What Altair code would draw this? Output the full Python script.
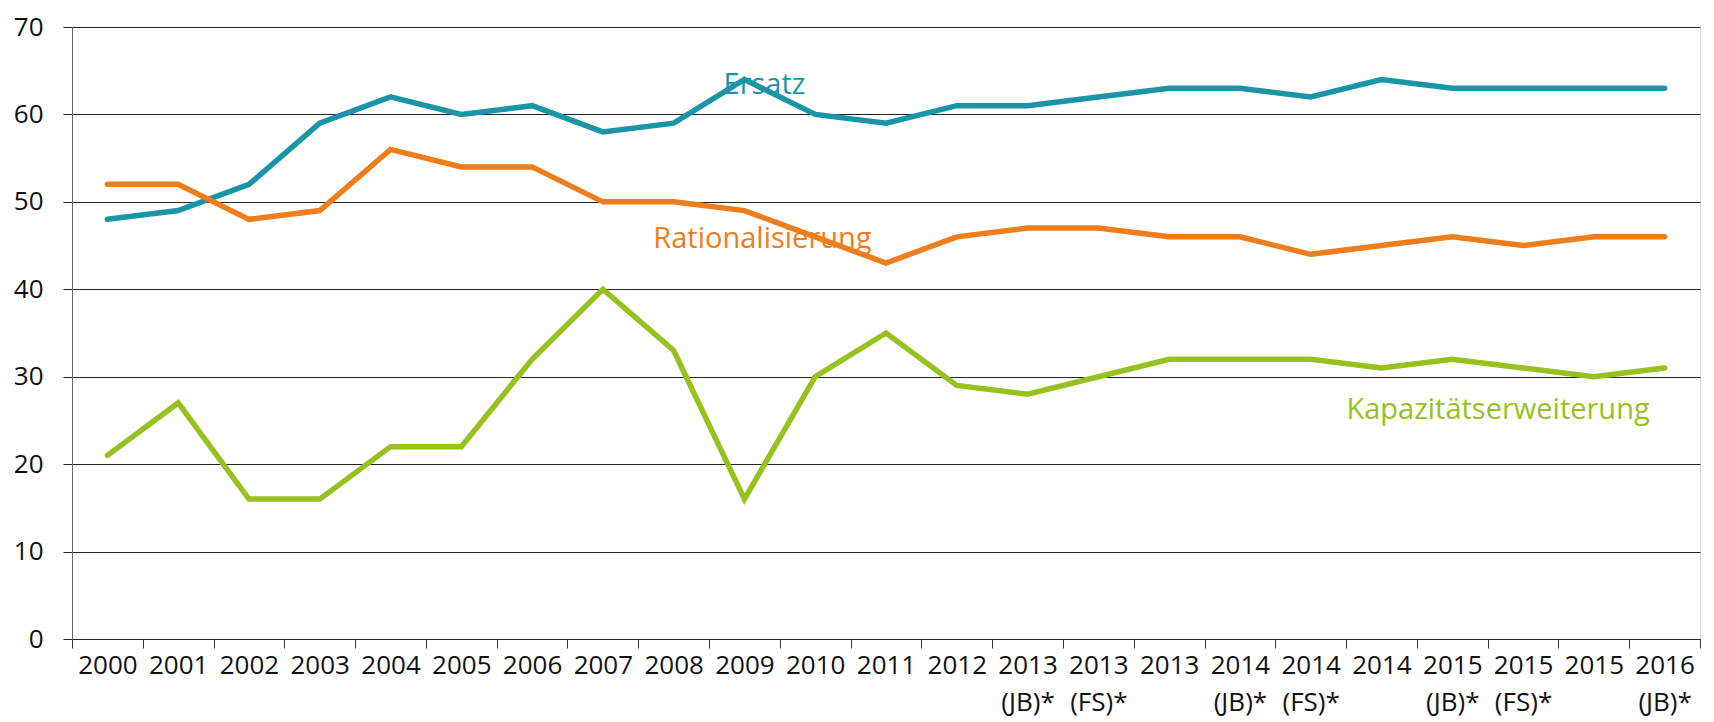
import altair as alt
import pandas as pd

categories = ["2000", "2001", "2002", "2003", "2004", "2005", "2006", "2007", "2008",
              "2009", "2010", "2011", "2012", "2013\n(JB)*", "2013\n(FS)*", "2013",
              "2014\n(JB)*", "2014\n(FS)*", "2014", "2015\n(JB)*", "2015\n(FS)*", "2015",
              "2016\n(JB)*"]
ersatz = [48, 49, 52, 59, 62, 60, 61, 58, 59, 64, 60, 59, 61, 61, 62, 63, 63, 62, 64, 63, 63, 63, 63]
rational = [52, 52, 48, 49, 56, 54, 54, 50, 50, 49, 46, 43, 46, 47, 47, 46, 46, 44, 45, 46, 45, 46, 46]
kapazitaet = [21, 27, 16, 16, 22, 22, 32, 40, 33, 16, 30, 35, 29, 28, 30, 32, 32, 32, 31, 32, 31, 30, 31]
series_names = ["Ersatz", "Rationalisierung", "Kapazitätserweiterung"]
series_colors = ["#1a95a6", "#ee7d1b", "#96c11f"]
y_ticks = [0, 10, 20, 30, 40, 50, 60, 70]

label_cat = ["2009", "2009", "2015\n(FS)*"]
label_val = [63.4, 45.7, 26.2]
label_dx = [20, 18, -25]

FONT = "Open Sans"

rows = []
for name, vals in zip(series_names, [ersatz, rational, kapazitaet]):
    for c, v in zip(categories, vals):
        rows.append({"Jahr": c, "Wert": v, "Serie": name})
df = pd.DataFrame(rows)

lab = pd.DataFrame({"Jahr": label_cat, "Wert": label_val, "Serie": series_names, "dx": label_dx})

xenc = alt.X("Jahr:N", sort=categories, bandPosition=0.5,
             scale=alt.Scale(type="band", paddingInner=0, paddingOuter=0),
             axis=alt.Axis(title=None, labelAngle=0, tickBand="extent",
                           labelExpr="split(datum.label, '\\n')",
                           labelFont=FONT, labelFontSize=26, labelColor="#111111",
                           labelLineHeight=37, labelPadding=4, tickSize=9,
                           tickColor="#333333", domainColor="#222222",
                           labelBaseline="top", labelFlush=False, labelOverlap=False))
yenc = alt.Y("Wert:Q", scale=alt.Scale(domain=[0, 70], nice=False),
             axis=alt.Axis(title=None, values=y_ticks, grid=True, gridColor="#222222",
                           gridWidth=1, labelFont=FONT, labelFontSize=26,
                           labelColor="#111111", labelPadding=20, tickSize=9,
                           tickColor="#222222", domainColor="#666666"))
color = alt.Color("Serie:N", scale=alt.Scale(domain=series_names, range=series_colors), legend=None)

lines = alt.Chart(df).mark_line(strokeWidth=5.5, strokeJoin="miter", strokeCap="round").encode(
    x=xenc, y=yenc, color=color)

texts = []
for i in range(3):
    t = alt.Chart(lab.iloc[[i]]).mark_text(font=FONT, fontSize=29, dx=label_dx[i],
                                          align="center", baseline="middle").encode(
        x=alt.X("Jahr:N", sort=categories, bandPosition=0.5),
        y=alt.Y("Wert:Q"),
        text="Serie:N", color=color)
    texts.append(t)

chart = alt.layer(lines, *texts).properties(
    width=1628, height=612,
    autosize=alt.AutoSizeParams(type="none"),
    padding={"left": 64, "top": 19, "right": 6, "bottom": 83},
).configure_view(stroke=None).configure(background="white")

chart.save("out.html", embed_options={"renderer": "svg", "actions": False})
